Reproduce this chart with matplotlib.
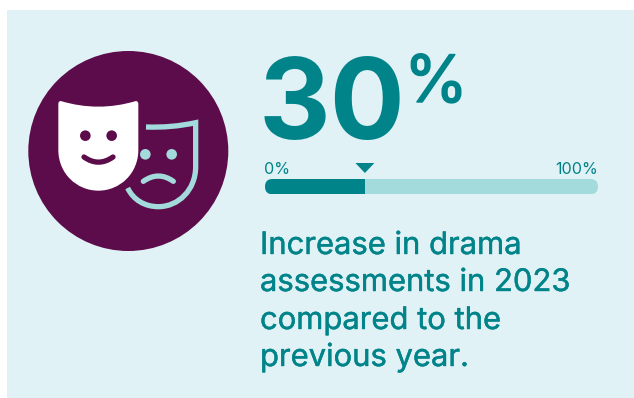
import numpy as np
import matplotlib
matplotlib.use("Agg")
import matplotlib.pyplot as plt
import matplotlib.patheffects as pe
from matplotlib.patches import Circle, FancyBboxPatch, PathPatch, Rectangle
from matplotlib.path import Path

W, H = 634, 398

BG = "#E0F2F5"
TEAL = "#00848A"
LIGHT = "#A3DBDD"
PURPLE = "#5C0C4A"

value = 30
scale_min = 0
scale_max = 100
headline = "30"
headline_unit = "%"
min_label = "0%"
max_label = "100%"
caption = ["Increase in drama", "assessments in 2023", "compared to the", "previous year."]

plt.rcParams["font.family"] = ["Inter", "DejaVu Sans"]

fig = plt.figure(figsize=(W / 100, H / 100), dpi=100, facecolor="white")

# whole-figure axes in pixels, y pointing down
ax = fig.add_axes([0, 0, 1, 1])
ax.set_xlim(0, W)
ax.set_ylim(H, 0)
ax.axis("off")
ax.add_patch(Rectangle((7, 10), W - 7, H - 10, fc=BG, ec="none"))


def icon_pts(pts):
    # icon outlines are sketched on a 3x grid
    pts = np.array(pts, dtype=float) / 3
    return pts + [20, 40]


def stroke(pts, codes, color, width, cap="round", join="miter"):
    patch = PathPatch(Path(icon_pts(pts), codes), fc="none", ec=color, lw=width * 0.72,
                      capstyle=cap, joinstyle=join)
    ax.add_patch(patch)


def dot(x, y, color):
    cx, cy = icon_pts([(x, y)])[0]
    ax.add_patch(Circle((cx, cy), 5.3, fc=color, ec="none"))


def thicken(width):
    # Inter only ships regular and bold here, so fatten the regular a little
    return [pe.withStroke(linewidth=width, foreground=TEAL)]


M, L, C3, C4, Z = Path.MOVETO, Path.LINETO, Path.CURVE3, Path.CURVE4, Path.CLOSEPOLY

ax.add_patch(Circle((128.3, 151), 100, fc=PURPLE, ec="none"))

# happy mask
happy = [(122, 183), (235, 217), (348, 183), (355, 183), (355, 192), (355, 330),
         (355, 400), (300, 452), (235, 452), (170, 452), (115, 400), (115, 330),
         (115, 192), (115, 183), (122, 183), (122, 183)]
happy_codes = [M, C3, C3, C3, C3, L, C4, C4, C4, C4, C4, C4, L, C3, C3, Z]
ax.add_patch(PathPatch(Path(icon_pts(happy), happy_codes), fc="white", ec="none"))
dot(196, 287, PURPLE)
dot(275, 287, PURPLE)
stroke([(192, 351), (235, 382), (279, 351)], [M, C3, C3], PURPLE, 5.3)

# sad mask, outline only
stroke([(378, 261), (455, 264), (527, 248), (527, 380), (527, 450), (475, 500), (415, 500),
        (375, 500), (340, 480), (323, 444)],
       [M, C3, C3, L, C4, C4, C4, C4, C4, C4], LIGHT, 5.3, cap="butt")
dot(376, 343, LIGHT)
dot(455, 343, LIGHT)
stroke([(370, 424), (415, 392), (460, 424)], [M, C3, C3], LIGHT, 5.3)

# headline figures
ax.text(259, 139, headline, fontsize=80, fontweight="bold", color=TEAL, va="baseline", ha="left")
ax.text(404, 102, headline_unit, fontsize=47, color=TEAL, va="baseline", ha="left",
        path_effects=thicken(1.0))

# progress scale
bar_left, bar_right, bar_top, bar_bottom = 265, 598, 179, 194.3
ax_bar = fig.add_axes([bar_left / W, 1 - bar_bottom / H, (bar_right - bar_left) / W,
                       (bar_bottom - bar_top) / H])
ax_bar.set_xlim(scale_min, scale_max)
ax_bar.set_ylim(0, 1)
ax_bar.axis("off")
track = ax_bar.barh(0.5, scale_max - scale_min, left=scale_min, height=1, color=LIGHT)[0]
fill = ax_bar.barh(0.5, value - scale_min, left=scale_min, height=1, color=TEAL)[0]

# rounded ends come from clipping both bars
pill = FancyBboxPatch((bar_left + 7.6, bar_top + 7.6), bar_right - bar_left - 15.2, 0.1,
                      boxstyle="round,pad=7.6", transform=ax.transData, fc="none", ec="none")
ax.add_patch(pill)
track.set_clip_path(pill)
fill.set_clip_path(pill)

# pointer above the bar at the value, 19px wide
ax_pointer = fig.add_axes([bar_left / W, 1 - 173 / H, (bar_right - bar_left) / W, 10 / H])
ax_pointer.set_xlim(scale_min, scale_max)
ax_pointer.set_ylim(0, 1)
ax_pointer.axis("off")
half = 9.5 * (scale_max - scale_min) / (bar_right - bar_left)
ax_pointer.fill([value - half, value + half, value], [1, 1, 0], color=TEAL, lw=0, clip_on=False)

ax.text(bar_left - 1, 174, min_label, fontsize=11.6, color=TEAL, va="baseline", ha="left")
ax.text(bar_right, 174, max_label, fontsize=11.6, color=TEAL, va="baseline", ha="right")

# caption
for line, baseline in zip(caption, [254, 291, 329, 366]):
    ax.text(260, baseline, line, fontsize=22.3, color=TEAL, va="baseline", ha="left",
            path_effects=thicken(0.3))

fig.savefig("out.png", dpi=100, facecolor="white")
